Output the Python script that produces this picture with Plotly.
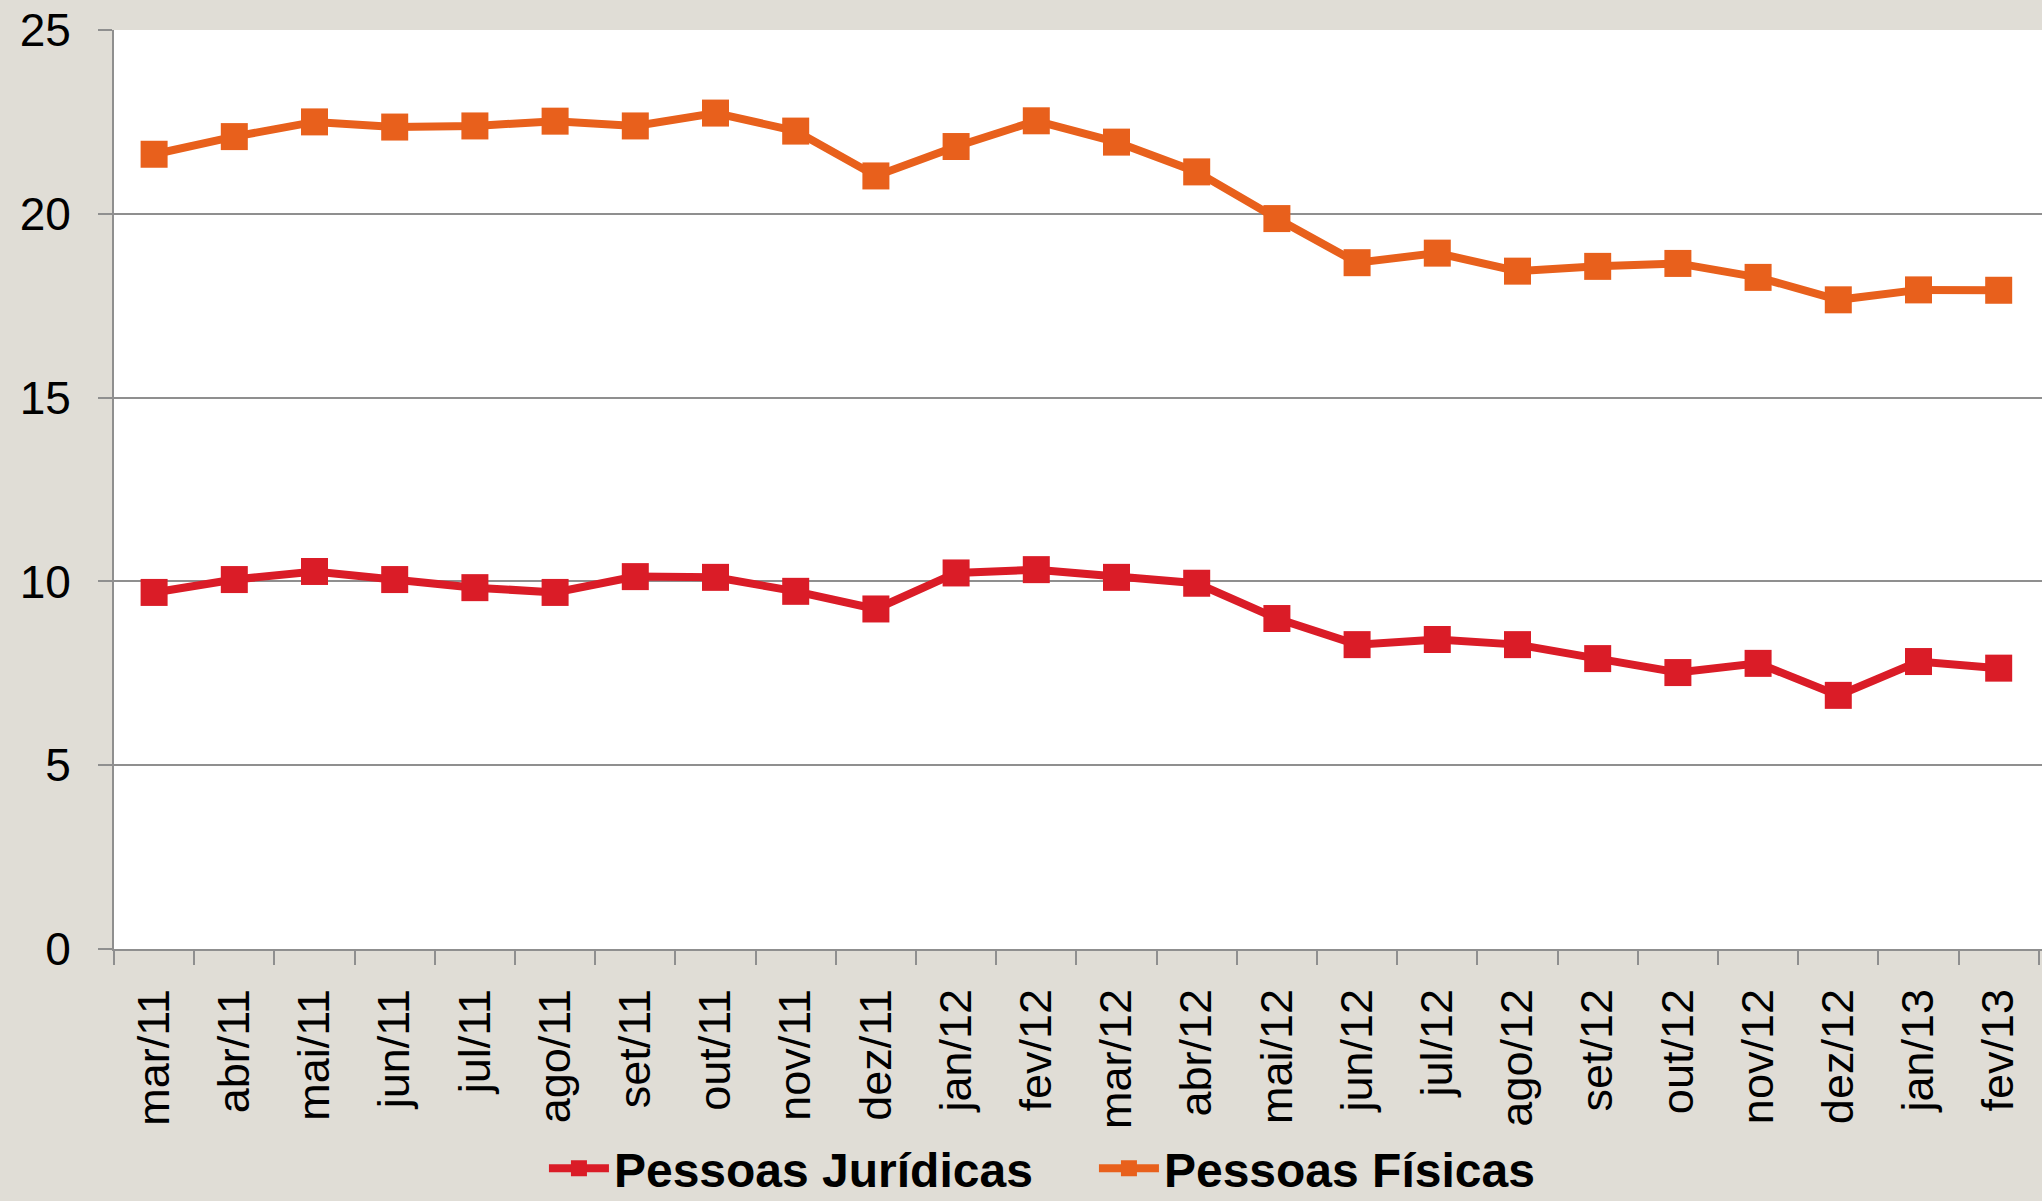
import plotly.graph_objects as go

meses = ["mar/11", "abr/11", "mai/11", "jun/11", "jul/11", "ago/11", "set/11", "out/11",
         "nov/11", "dez/11", "jan/12", "fev/12", "mar/12", "abr/12", "mai/12", "jun/12",
         "jul/12", "ago/12", "set/12", "out/12", "nov/12", "dez/12", "jan/13", "fev/13"]

pessoas_juridicas = [9.70, 10.05, 10.27, 10.05, 9.83, 9.70, 10.13, 10.11,
                     9.73, 9.25, 10.23, 10.32, 10.11, 9.95, 8.99, 8.28,
                     8.42, 8.28, 7.90, 7.52, 7.77, 6.90, 7.82, 7.64]

pessoas_fisicas = [21.62, 22.10, 22.50, 22.36, 22.39, 22.52, 22.39, 22.74,
                   22.25, 21.03, 21.83, 22.53, 21.95, 21.14, 19.87, 18.67,
                   18.93, 18.44, 18.57, 18.65, 18.27, 17.66, 17.93, 17.92]

FONT = "Liberation Sans, Arial, sans-serif"
GRID = "#8f8f8f"

fig = go.Figure()
fig.add_trace(go.Scatter(
    x=meses, y=pessoas_juridicas, name="Pessoas Jurídicas", mode="lines+markers",
    line=dict(color="#da1c27", width=8),
    marker=dict(symbol="square", size=27, color="#da1c27"),
))
fig.add_trace(go.Scatter(
    x=meses, y=pessoas_fisicas, name="Pessoas Físicas", mode="lines+markers",
    line=dict(color="#e8601c", width=8),
    marker=dict(symbol="square", size=27, color="#e8601c"),
))

fig.update_layout(
    width=2042, height=1201,
    margin=dict(l=114, r=0, t=30, b=252, autoexpand=False),
    paper_bgcolor="#e0ddd6",
    plot_bgcolor="white",
    font=dict(family=FONT, size=45, color="black"),
    showlegend=True,
    legend=dict(
        orientation="h", x=0.223, xanchor="left",
        yref="container", y=0.027, yanchor="middle",
        font=dict(family=FONT, size=48, color="black", weight="bold"),
        bgcolor="rgba(0,0,0,0)", itemwidth=60, traceorder="normal",
        entrywidth=475,
    ),
    xaxis=dict(
        type="category", range=[-0.5, 23.54],
        tickangle=-90, ticks="outside", ticklen=14, tickwidth=2, tickcolor=GRID,
        tickson="boundaries", showline=True, linecolor=GRID, linewidth=2,
        showgrid=False, ticklabelstandoff=20,
        tickfont=dict(family=FONT, size=45, color="black"),
    ),
    yaxis=dict(
        range=[0, 25], dtick=5, ticks="outside", ticklen=14, tickwidth=2, tickcolor=GRID,
        showline=True, linecolor=GRID, linewidth=2,
        showgrid=True, gridcolor=GRID, gridwidth=2, zeroline=False,
        ticklabelstandoff=18,
        tickfont=dict(family=FONT, size=46, color="black"),
    ),
)

fig.write_html("out.html", config={"displayModeBar": False},
               post_script="document.body.style.margin='0';")
